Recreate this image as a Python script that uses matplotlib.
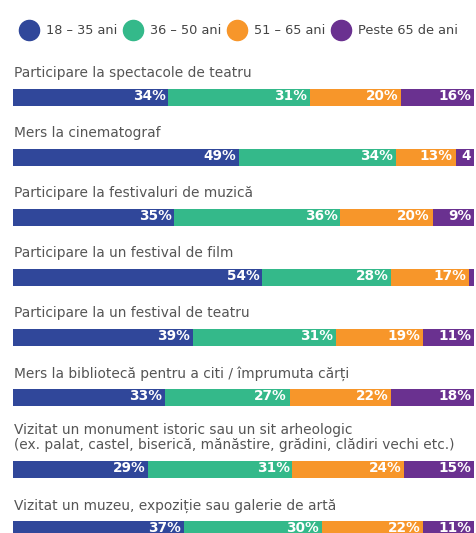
import numpy as np
import matplotlib.pyplot as plt
from matplotlib.lines import Line2D

plt.rcParams['font.family'] = ['DejaVu Sans']

activities = [
    "Participare la spectacole de teatru",
    "Mers la cinematograf",
    "Participare la festivaluri de muzică",
    "Participare la un festival de film",
    "Participare la un festival de teatru",
    "Mers la bibliotecă pentru a citi / împrumuta cărți",
    "Vizitat un monument istoric sau un sit arheologic\n(ex. palat, castel, biserică, mănăstire, grădini, clădiri vechi etc.)",
    "Vizitat un muzeu, expoziție sau galerie de artă",
]
groups = ["18 – 35 ani", "36 – 50 ani", "51 – 65 ani", "Peste 65 de ani"]
age_18_35 = [34, 49, 35, 54, 39, 33, 29, 37]
age_36_50 = [31, 34, 36, 28, 31, 27, 31, 30]
age_51_65 = [20, 13, 20, 17, 19, 22, 24, 22]
age_65_up = [16, 4, 9, 1, 11, 18, 15, 11]
colors = ["#30479A", "#34B98A", "#F7962A", "#6A3190"]

vals = np.array([age_18_35, age_36_50, age_51_65, age_65_up], dtype=float)
shares = vals / vals.sum(axis=0) * 100

fig = plt.figure(figsize=(4.77, 5.33), dpi=100)
ax = fig.add_axes([0, 0, 1, 1])
ax.set_xlim(-13 / 4.61, (477 - 13) / 4.61)
ax.set_ylim(533, 0)
ax.axis('off')

# bar centres in pixel rows; the two-line label pushes its bar down
ys = []
y = 97
for lab in activities:
    if "\n" in lab:
        y += 12
    ys.append(y)
    y += 60
ys = np.array(ys)

left = np.zeros(len(activities))
for k in range(4):
    ax.barh(ys, shares[k], left=left, height=17, color=colors[k], edgecolor='none')
    for i in range(len(activities)):
        v = vals[k, i]
        if v < 2:
            continue
        txt = f"{int(v)}%" if v >= 5 else f"{int(v)}"
        ax.text(left[i] + shares[k, i] - 0.6, ys[i] - 0.5, txt, ha='right', va='center',
                color='white', fontsize=9.8, fontweight='bold')
    left += shares[k]

for lab, yc in zip(activities, ys):
    ax.text(0.3, yc - 8.5 - 11, lab, ha='left', va='baseline', color='#555555',
            fontsize=9.9, linespacing=1.15)

handles = [Line2D([], [], marker='o', ls='none', markersize=14.5, color=c) for c in colors]
fig.legend(handles, groups, loc='center', bbox_to_anchor=(0.5, 1 - 31 / 533), ncol=4,
           frameon=False, fontsize=9.3, handletextpad=0.55, columnspacing=0.5,
           labelcolor='#444444', handlelength=1.5)

fig.savefig('out.png', dpi=100)
